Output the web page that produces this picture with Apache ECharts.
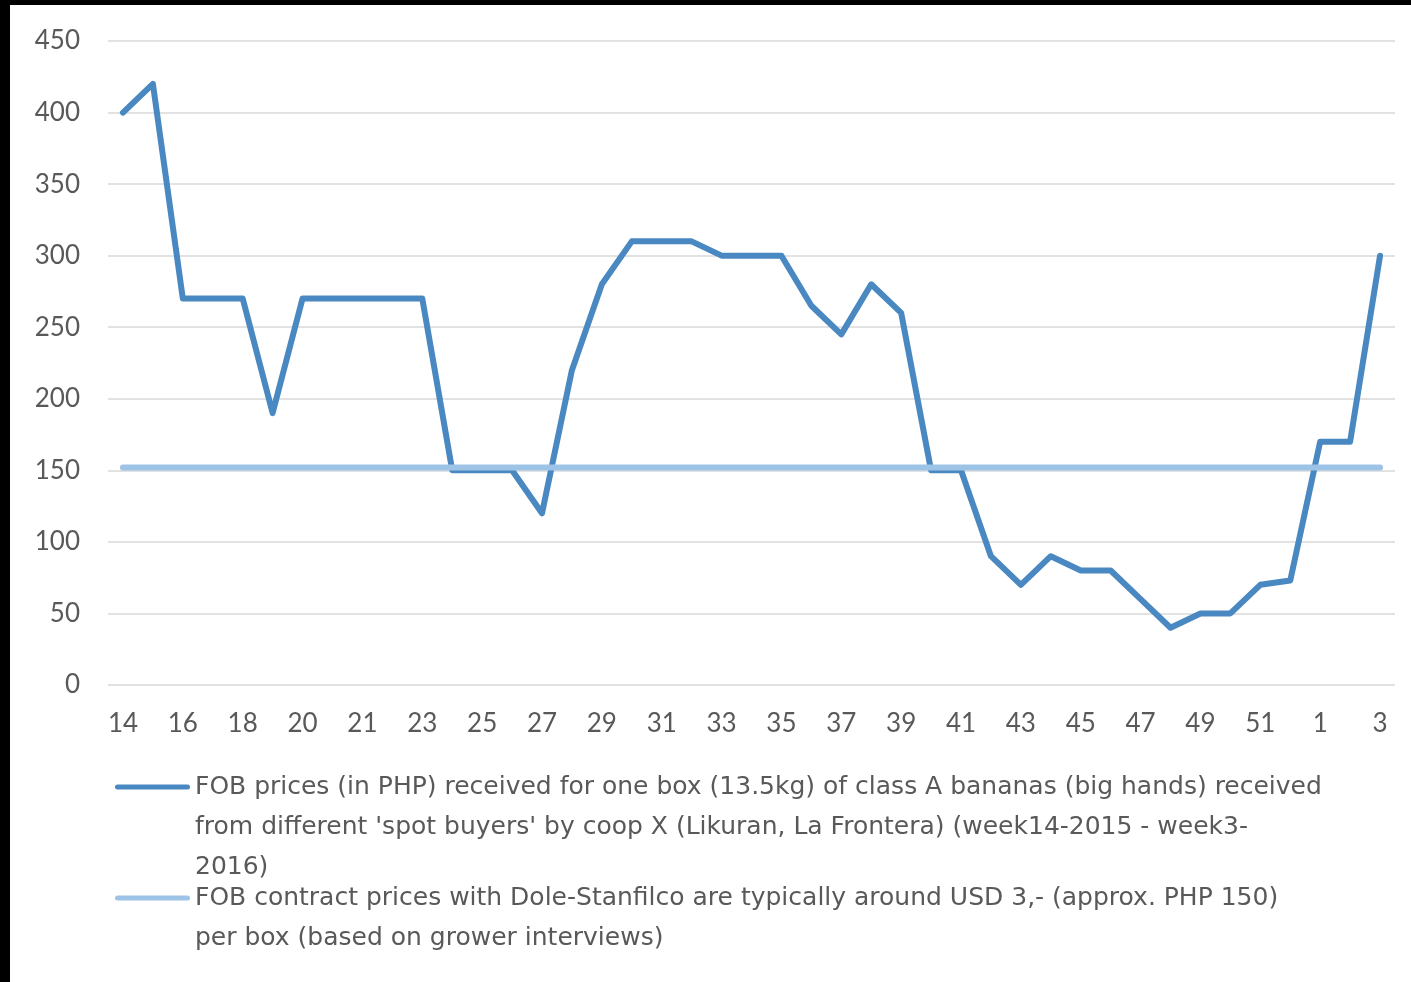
<!DOCTYPE html>
<html>
<head>
<meta charset="utf-8">
<title>FOB banana prices</title>
<script src="https://cdn.jsdelivr.net/npm/echarts@6/dist/echarts.min.js"></script>
<style>
    html, body {
        margin: 0;
        padding: 0;
        background: #000;
        width: 1411px;
        height: 982px;
        overflow: hidden;
    }
    #chart {
        position: absolute;
        left: 10px;
        top: 5px;
        width: 1401px;
        height: 977px;
        background: #fff;
    }
</style>
</head>
<body>
<div id="chart"></div>
<script>
// weeks 14-2015 .. 3-2016 (week 20 appears twice in the source data)
var weeks = ['14', '15', '16', '17', '18', '19', '20', '20', '21', '22',
    '23', '24', '25', '26', '27', '28', '29', '30', '31', '32',
    '33', '34', '35', '36', '37', '38', '39', '40', '41', '42',
    '43', '44', '45', '46', '47', '48', '49', '50', '51', '52',
    '1', '2', '3'];

// spot buyer prices (PHP per box)
var spotPrices = [400, 420, 270, 270, 270, 190, 270, 270, 270, 270,
    270, 150, 150, 150, 120, 220, 280, 310, 310, 310,
    300, 300, 300, 265, 245, 280, 260, 150, 150, 90,
    70, 90, 80, 80, 60, 40, 50, 50, 70, 73,
    170, 170, 300];

// contract price, flat
var contractPrices = [152, 152, 152, 152, 152, 152, 152, 152, 152, 152,
    152, 152, 152, 152, 152, 152, 152, 152, 152, 152,
    152, 152, 152, 152, 152, 152, 152, 152, 152, 152,
    152, 152, 152, 152, 152, 152, 152, 152, 152, 152,
    152, 152, 152];

var spotName = "FOB prices (in PHP) received for one box (13.5kg) of class A bananas (big hands) received\n" +
    "from different 'spot buyers' by coop X (Likuran, La Frontera) (week14-2015 - week3-\n" +
    "2016)";
var contractName = "FOB contract prices with Dole-Stanfilco are typically around USD 3,- (approx. PHP 150)\n" +
    "per box (based on grower interviews)";

var axisFont = 'Lato';
var legendFont = 'DejaVu Sans';
var textColor = '#595959';

// short line with round ends for the legend
var lineIcon = 'path://M2.5,0 L72.5,0 A2.5,2.5 0 0 1 72.5,5 L2.5,5 A2.5,2.5 0 0 1 2.5,0 Z';

var myChart = echarts.init(document.getElementById('chart'));

// legend text is centred on the icon, so blank lines are put in front
// to bring the first line level with the icon
function makeLegend(name, lines, top) {
    var blank = new Array(lines).join('\n');
    return {
        data: [name],
        orient: 'vertical',
        left: 105,
        top: top,
        padding: 0,
        icon: lineIcon,
        itemWidth: 75,
        itemHeight: 5,
        selectedMode: false,
        itemStyle: { borderWidth: 0 },
        formatter: function (n) {
            return blank + n;
        },
        textStyle: {
            color: textColor,
            fontFamily: legendFont,
            fontSize: 25,
            lineHeight: 40
        }
    };
}

var option = {
    backgroundColor: '#fff',
    animation: false,
    grid: {
        left: 98,
        right: 16,
        top: 36,
        bottom: 297
    },
    legend: [
        makeLegend(spotName, 3, 682),
        makeLegend(contractName, 2, 833)
    ],
    xAxis: {
        type: 'category',
        data: weeks,
        boundaryGap: true,
        axisLine: { show: false },
        axisTick: { show: false },
        axisLabel: {
            interval: 1,
            margin: 26,
            color: textColor,
            fontFamily: axisFont,
            fontSize: 26
        }
    },
    yAxis: {
        type: 'value',
        min: 0,
        max: 450,
        interval: 50,
        axisLine: { show: false },
        axisTick: { show: false },
        axisLabel: {
            margin: 28,
            color: textColor,
            fontFamily: axisFont,
            fontSize: 26
        },
        splitLine: {
            lineStyle: { color: '#d9d9d9', width: 1.5 }
        }
    },
    series: [
        {
            name: spotName,
            type: 'line',
            symbol: 'none',
            data: spotPrices,
            color: '#4a88c2',
            lineStyle: { width: 6, color: '#4a88c2', cap: 'round', join: 'round' }
        },
        {
            name: contractName,
            type: 'line',
            symbol: 'none',
            data: contractPrices,
            color: '#9dc3e6',
            lineStyle: { width: 6, color: '#9dc3e6', cap: 'round', join: 'round' }
        }
    ]
};

myChart.setOption(option);
</script>
</body>
</html>
